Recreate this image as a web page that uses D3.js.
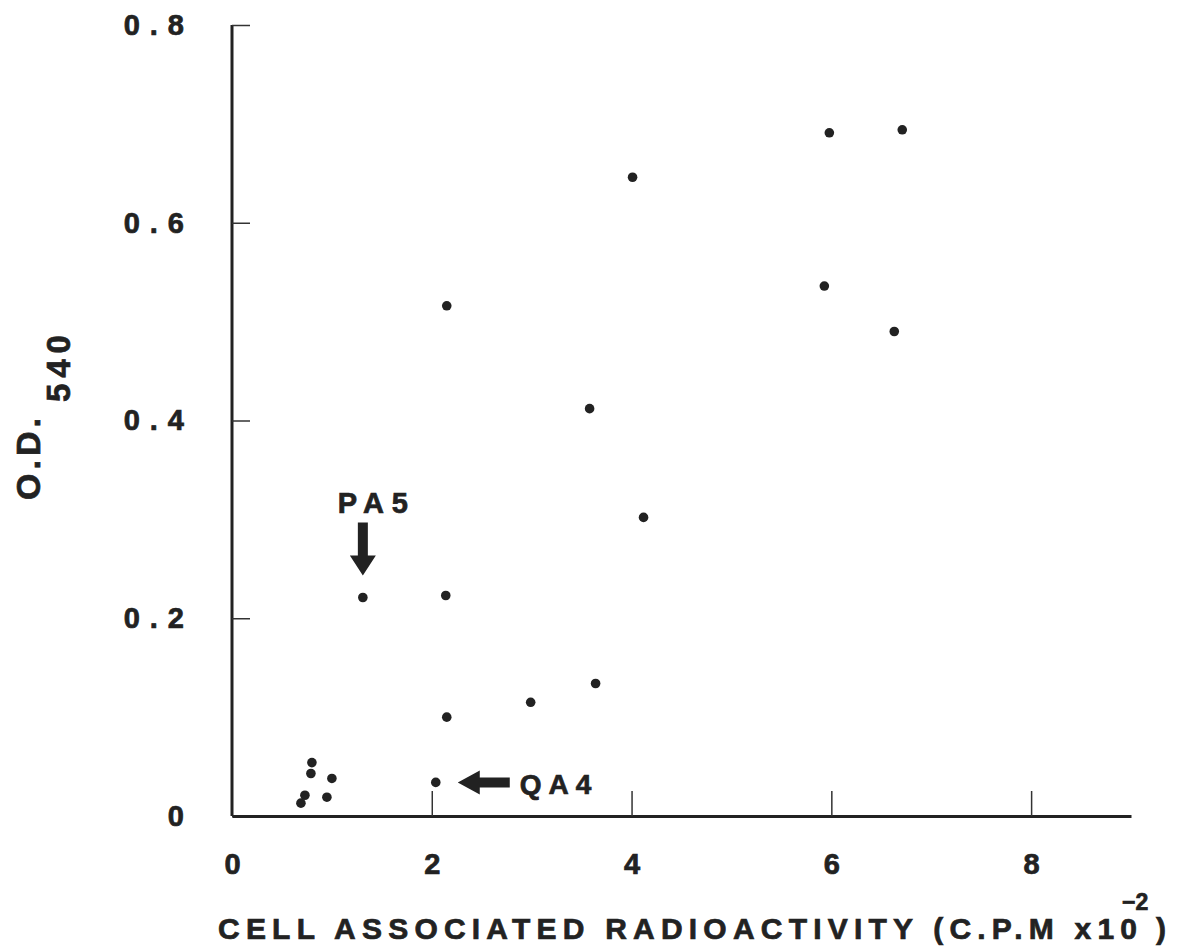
<!DOCTYPE html>
<html>
<head>
<meta charset="utf-8">
<script src="https://cdn.jsdelivr.net/npm/d3@7"></script>
<style>
  body{margin:0;background:#fff;}
  svg text{font-family:"Liberation Sans",Arial,Helvetica,sans-serif;font-weight:bold;fill:#222;stroke:#222;stroke-width:0.7px;}
</style>
</head>
<body>
<svg id="chart" width="1181" height="950"></svg>
<script>
// 读图得到的数据（C.P.M x10^-2, O.D.540）
var cpm = [5.98,6.71,5.93,6.63,4.01,2.15,3.58,4.12,1.31,2.14,2.15,2.99,3.64,2.04,0.80,0.79,1.00,0.73,0.69,0.95];
var od  = [0.691,0.694,0.536,0.490,0.646,0.516,0.412,0.302,0.221,0.223,0.100,0.115,0.134,0.034,0.054,0.043,0.038,0.021,0.013,0.019];
var xTicks = [0,2,4,6,8];
var yTicks = [0,0.2,0.4,0.6,0.8];
// 标注点：PA5 与 QA4 分别对应上面的第 9、14 个点
var notes = [
    {label:"PA5", index:8, dir:"down"},
    {label:"QA4", index:13, dir:"left"}
];

var svg = d3.select("#chart");
var x = d3.scaleLinear().domain([0,9]).range([232,1131]);
var y = d3.scaleLinear().domain([0,0.8]).range([816,25]);

var points = cpm.map(function(v,i){ return {x:v, y:od[i]}; });

// 坐标轴
var yAxis = d3.axisLeft(y)
    .tickValues(yTicks)
    .tickSizeInner(-18)
    .tickSizeOuter(0)
    .tickPadding(38)
    .tickFormat(function(d){ return d===0 ? "0" : d.toFixed(1); });
var xAxis = d3.axisBottom(x)
    .tickValues(xTicks)
    .tickSizeInner(-25)
    .tickSizeOuter(0)
    .tickPadding(37)
    .tickFormat(d3.format("d"));

var gy = svg.append("g").attr("transform","translate("+x(0)+",0)").call(yAxis);
var gx = svg.append("g").attr("transform","translate(0,"+y(0)+")").call(xAxis);

[gx,gy].forEach(function(g){
    g.select(".domain").attr("stroke","#222").attr("stroke-width",3);
    g.selectAll(".tick line").attr("stroke","#333").attr("stroke-width",1.5);
    g.selectAll(".tick text")
        .attr("fill","#222")
        .style("font-size","29px")
        .style("font-family","'Liberation Sans',Arial,sans-serif")
        .style("font-weight","bold");
});
gy.selectAll(".tick text").style("letter-spacing","10px");
gx.select(".tick line").remove();
// y轴向上延伸到 0.8
gy.select(".domain").attr("d","M0,"+y(0.8)+"V"+y(0));

// 数据点
svg.append("g")
    .selectAll("circle")
    .data(points)
    .enter()
    .append("circle")
    .attr("cx",function(d){ return x(d.x); })
    .attr("cy",function(d){ return y(d.y); })
    .attr("r",4.8)
    .attr("fill","#222");

// 箭头标注
notes.forEach(function(n){
    var p = points[n.index];
    var px = x(p.x), py = y(p.y);
    var g = svg.append("g");
    if(n.dir==="down"){
        var tip = py-22;
        g.append("path")
            .attr("d","M"+px+","+tip+"L"+(px-13)+","+(tip-20)+"L"+(px-5)+","+(tip-20)+
                "L"+(px-5)+","+(tip-53)+"L"+(px+5)+","+(tip-53)+"L"+(px+5)+","+(tip-20)+
                "L"+(px+13)+","+(tip-20)+"Z")
            .attr("fill","#222");
        g.append("text")
            .attr("x",px+14)
            .attr("y",py-84)
            .attr("text-anchor","middle")
            .style("font-size","29px")
            .style("letter-spacing","8px")
            .text(n.label);
    }else{
        var tipx = px+22;
        g.append("path")
            .attr("d","M"+tipx+","+py+"L"+(tipx+22)+","+(py-12)+"L"+(tipx+22)+","+(py-5)+
                "L"+(tipx+52)+","+(py-5)+"L"+(tipx+52)+","+(py+5)+"L"+(tipx+22)+","+(py+5)+
                "L"+(tipx+22)+","+(py+12)+"Z")
            .attr("fill","#222");
        g.append("text")
            .attr("x",px+84)
            .attr("y",py+12)
            .style("font-size","28px")
            .style("letter-spacing","7px")
            .text(n.label);
    }
});

// 轴标题
svg.append("text")
    .attr("x",218)
    .attr("y",939)
    .style("font-size","30px")
    .attr("textLength",919)
    .attr("lengthAdjust","spacing")
    .text("CELL ASSOCIATED RADIOACTIVITY (C.P.M x10");
svg.append("text")
    .attr("x",1122)
    .attr("y",910)
    .style("font-size","23px")
    .text("\u22122");
svg.append("text")
    .attr("x",1156)
    .attr("y",939)
    .style("font-size","30px")
    .text(")");

var yt = svg.append("text")
    .attr("transform","translate(40,500) rotate(-90)")
    .style("font-size","34px")
    .style("letter-spacing","4px");
yt.append("tspan").text("O.D.");
yt.append("tspan").attr("dx",12).attr("dy",30).style("font-size","33px").style("letter-spacing","6px").text("540");
</script>
</body>
</html>
